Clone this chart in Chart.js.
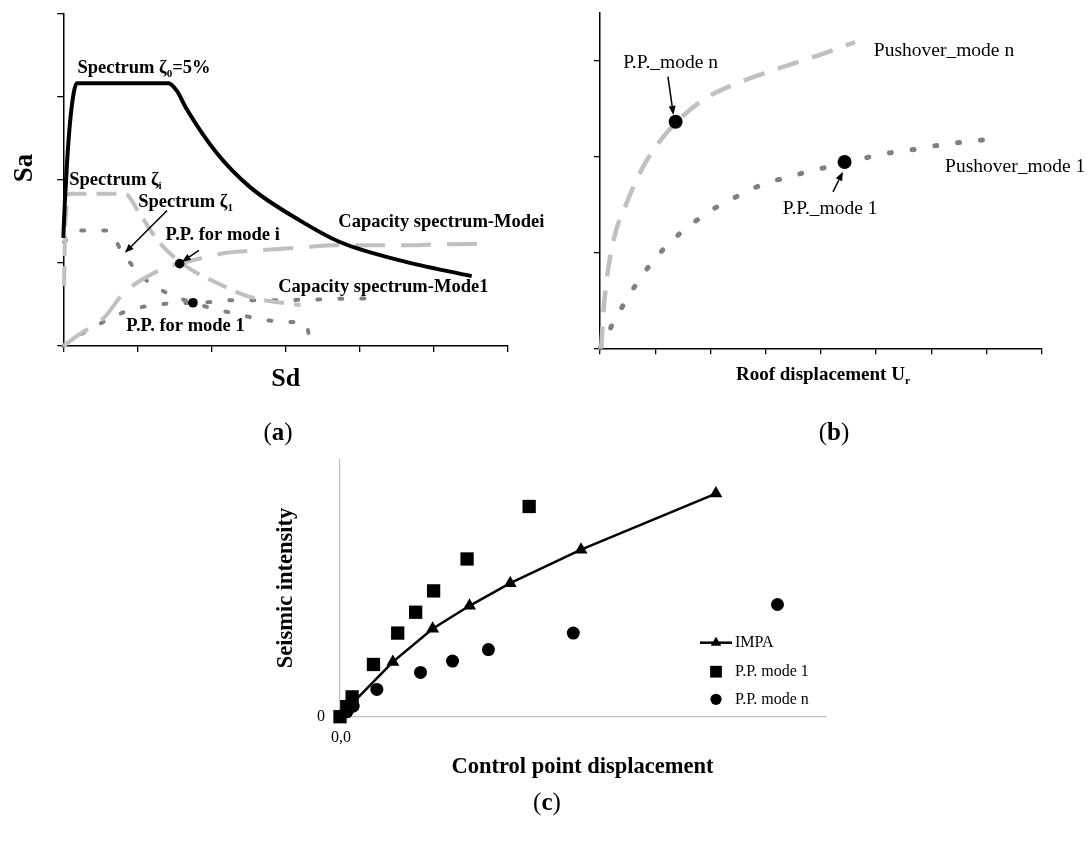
<!DOCTYPE html>
<html>
<head>
<meta charset="utf-8">
<script src="https://cdn.jsdelivr.net/npm/chart.js@4.4.1/dist/chart.umd.min.js"></script>
<style>
body { margin: 0; background: #fff; }
#page { position: relative; width: 1088px; height: 852px; overflow: hidden; }
canvas { position: absolute; }
.cap { position: absolute; width: 80px; text-align: center; font: 25px 'Liberation Serif', serif; line-height: 28px; color: #000; }
</style>
</head>
<body>
<div id="page">
  <canvas id="chartA" width="544" height="450" style="left:0;top:0"></canvas>
  <canvas id="chartB" width="544" height="450" style="left:544px;top:0"></canvas>
  <canvas id="chartC" width="1088" height="402" style="left:0;top:450px"></canvas>
  <div class="cap" style="left:238px;top:418px">(<b>a</b>)</div>
  <div class="cap" style="left:794px;top:418px">(<b>b</b>)</div>
  <div class="cap" style="left:507px;top:788px">(<b>c</b>)</div>
</div>
<script>
const SERIF = "'Liberation Serif', 'Times New Roman', serif";
const LIGHT = '#c0c0c0';
const DARK = '#808080';

// (a) Sd - Sa plane: demand spectra and capacity spectra
const spectrum5 = [[0, 1.3], [0.02, 1.71], [0.05, 2.2], [0.09, 2.68], [0.14, 3.04], [0.18, 3.16], [1.42, 3.16],
  [1.53, 3.07], [1.67, 2.84], [2.07, 2.32], [2.52, 1.91], [3.19, 1.51], [3.73, 1.25], [4.54, 1.03], [5.51, 0.84]];
const spectrumI = [[0.01, 0.72], [0.03, 1.5], [0.09, 1.83], [0.83, 1.83], [1.03, 1.59], [1.30, 1.24],
  [1.67, 0.95], [2.07, 0.76], [2.52, 0.59], [3.2, 0.49]];
const spectrum1 = [[0.01, 1.25], [0.18, 1.39], [0.60, 1.39], [0.80, 1.12], [1.07, 0.83], [1.39, 0.64],
  [1.75, 0.52], [2.21, 0.41], [2.99, 0.29], [3.28, 0.26], [3.31, 0.15]];
const capacityModeI = [[0, 0], [0.2, 0.13], [0.56, 0.35], [0.81, 0.63], [1.40, 0.95], [1.57, 0.99],
  [2.2, 1.12], [2.61, 1.15], [3.3, 1.19], [3.64, 1.21], [4.61, 1.21], [5.0, 1.22], [5.67, 1.23]];
const capacityMode1 = [[0, 0], [0.18, 0.11], [0.52, 0.28], [0.83, 0.41], [1.13, 0.48], [1.42, 0.51],
  [1.75, 0.52], [2.02, 0.53], [2.29, 0.55], [2.61, 0.55], [3.46, 0.56], [3.87, 0.57], [4.30, 0.57]];
const perfPointsA = [[1.57, 0.99], [1.75, 0.52]];

// (b) pushover curves, roof displacement vs base shear
const pushoverModeN = [[0.02, 0.0], [0.08, 0.5], [0.24, 1.11], [0.48, 1.51], [0.78, 1.89], [1.06, 2.14],
  [1.39, 2.36], [1.90, 2.60], [2.48, 2.76], [3.05, 2.88], [3.68, 3.00], [4.05, 3.07], [4.62, 3.19]];
const pushoverMode1 = [[0, 0], [0.35, 0.38], [0.79, 0.78], [1.21, 1.07], [1.63, 1.28], [2.05, 1.45],
  [2.51, 1.59], [2.96, 1.71], [3.38, 1.78], [3.84, 1.85], [4.44, 1.93], [4.86, 1.99], [5.29, 2.04],
  [5.68, 2.07], [6.19, 2.12], [6.61, 2.15], [7.12, 2.18]];
const perfPointsB = [[1.37, 2.36], [4.43, 1.94]];

// (c) IMPA curve and performance points per mode
const impa = [[0, 0], [0.27, 0.55], [1.09, 2.13], [1.91, 3.42], [2.67, 4.31], [3.51, 5.19], [4.97, 6.49], [7.75, 8.67]];
const ppMode1 = [[0, 0], [0.14, 0.39], [0.25, 0.77], [0.69, 2.03], [1.19, 3.25], [1.56, 4.06], [1.93, 4.89],
  [2.62, 6.13], [3.90, 8.17]];
const ppModeN = [[0.14, 0.19], [0.27, 0.41], [0.76, 1.06], [1.66, 1.72], [2.32, 2.16], [3.06, 2.61],
  [4.81, 3.25], [9.02, 4.36]];

// annotation texts, anchored at (left, baseline) in data units
const notesA = [
  { at: [0.19, 3.28], parts: [['Spectrum ζ'], ['0', 1], ['=5%']] },
  { at: [0.08, 1.94], parts: [['Spectrum ζ'], ['i', 1]] },
  { at: [1.01, 1.67], parts: [['Spectrum ζ'], ['1', 1]] },
  { at: [1.38, 1.27], parts: [['P.P. for mode i']] },
  { at: [3.71, 1.43], parts: [['Capacity spectrum-Modei']] },
  { at: [2.90, 0.65], parts: [['Capacity spectrum-Mode1']] },
  { at: [0.85, 0.18], parts: [['P.P. for mode 1']] }
];
const arrowsA = [[[1.40, 1.63], [0.83, 1.12]], [[1.83, 1.15], [1.60, 1.01]]];
const notesB = [
  { at: [0.42, 2.92], parts: [['P.P._mode n']] },
  { at: [4.96, 3.04], parts: [['Pushover_mode n']] },
  { at: [3.31, 1.40], parts: [['P.P._mode 1']] },
  { at: [6.25, 1.84], parts: [['Pushover_mode 1']] }
];
const arrowsB = [[[1.23, 2.83], [1.33, 2.43]], [[4.22, 1.63], [4.40, 1.84]]];

const pts = arr => arr.map(([x, y]) => ({ x, y }));

function curve(data, color, width, dash, cap) {
  return {
    data: pts(data), showLine: true, borderColor: color, borderWidth: width,
    borderDash: dash || [], borderCapStyle: cap || 'butt', pointRadius: 0,
    cubicInterpolationMode: 'monotone', fill: false, clip: false
  };
}

function dots(data, style, r) {
  return {
    data: pts(data), showLine: false, pointStyle: style, pointRadius: r,
    pointBackgroundColor: '#000', pointBorderColor: '#000', pointBorderWidth: 0, clip: false
  };
}

function drawRich(ctx, x, y, parts, size, weight, align) {
  const base = `${weight} ${size}px ${SERIF}`;
  const sub = `${weight} ${size * 0.6}px ${SERIF}`;
  let total = 0;
  parts.forEach(([t, s]) => { ctx.font = s ? sub : base; total += ctx.measureText(t).width; });
  let cx = align === 'center' ? x - total / 2 : x;
  ctx.textAlign = 'left';
  ctx.textBaseline = 'alphabetic';
  ctx.fillStyle = '#000';
  parts.forEach(([t, s]) => {
    ctx.font = s ? sub : base;
    ctx.fillText(t, cx, s ? y + size * 0.22 : y);
    cx += ctx.measureText(t).width;
  });
}

function drawArrow(ctx, x1, y1, x2, y2) {
  const a = Math.atan2(y2 - y1, x2 - x1), h = 9, w = 3.5;
  const bx = x2 - h * Math.cos(a), by = y2 - h * Math.sin(a);
  ctx.save();
  ctx.strokeStyle = '#000';
  ctx.fillStyle = '#000';
  ctx.lineWidth = 1.5;
  ctx.beginPath(); ctx.moveTo(x1, y1); ctx.lineTo(bx, by); ctx.stroke();
  ctx.beginPath();
  ctx.moveTo(x2, y2);
  ctx.lineTo(bx + w * Math.sin(a), by - w * Math.cos(a));
  ctx.lineTo(bx - w * Math.sin(a), by + w * Math.cos(a));
  ctx.closePath(); ctx.fill();
  ctx.restore();
}

function drawVertical(ctx, text, x, y, size) {
  ctx.save();
  ctx.translate(x, y);
  ctx.rotate(-Math.PI / 2);
  ctx.font = `bold ${size}px ${SERIF}`;
  ctx.textAlign = 'center';
  ctx.textBaseline = 'alphabetic';
  ctx.fillStyle = '#000';
  ctx.fillText(text, 0, 0);
  ctx.restore();
}

function marker(ctx, style, x, y, r) {
  ctx.save();
  ctx.fillStyle = '#000';
  ctx.beginPath();
  if (style === 'circle') {
    ctx.arc(x, y, r, 0, Math.PI * 2);
  } else if (style === 'rect') {
    const s = r * Math.SQRT1_2;
    ctx.rect(x - s, y - s, 2 * s, 2 * s);
  } else {
    ctx.moveTo(x, y - r);
    ctx.lineTo(x + r * 0.866, y + r * 0.5);
    ctx.lineTo(x - r * 0.866, y + r * 0.5);
    ctx.closePath();
  }
  ctx.fill();
  ctx.restore();
}

// draws texts and arrows after the datasets, in data coordinates
function notesPlugin(notes, arrows, size, weight, extra) {
  return {
    id: 'notes',
    afterDatasetsDraw(chart) {
      const ctx = chart.ctx, xs = chart.scales.x, ys = chart.scales.y;
      arrows.forEach(([f, t]) => drawArrow(ctx, xs.getPixelForValue(f[0]), ys.getPixelForValue(f[1]),
        xs.getPixelForValue(t[0]), ys.getPixelForValue(t[1])));
      notes.forEach(n => drawRich(ctx, xs.getPixelForValue(n.at[0]), ys.getPixelForValue(n.at[1]), n.parts, size, weight));
      if (extra) extra(chart, ctx);
    }
  };
}

function axis(min, max, step, pos, ticks, extra) {
  return Object.assign({
    type: 'linear', min, max, position: pos,
    grid: { display: ticks, drawOnChartArea: false, drawTicks: true, tickLength: 6, color: '#000', lineWidth: 1.3 },
    border: { display: true, color: '#000', width: 1.5 },
    ticks: { display: false, stepSize: step, includeBounds: false },
    afterFit: s => { if (pos === 'bottom') s.height = 0; else s.width = 0; }
  }, extra || {});
}

function baseOptions(pad, scales) {
  return {
    responsive: false, animation: false, devicePixelRatio: 1,
    layout: { padding: pad },
    plugins: { legend: { display: false }, tooltip: { enabled: false } },
    events: [],
    scales
  };
}

// (a)
new Chart(document.getElementById('chartA'), {
  type: 'scatter',
  data: {
    datasets: [
      dots(perfPointsA, 'circle', 4.8),
      curve(spectrum5, '#000', 4),
      curve(capacityModeI, LIGHT, 4, [30, 16]),
      curve(spectrumI, LIGHT, 4, [20, 10]),
      curve(spectrum1, DARK, 4, [3, 19], 'round'),
      curve(capacityMode1, DARK, 4, [3, 19], 'round')
    ]
  },
  options: baseOptions({ left: 63.3, top: 13.3, right: 36, bottom: 104 }, {
    x: axis(0, 6, 1, 'bottom', true),
    y: axis(0, 4, 1, 'left', true)
  }),
  plugins: [notesPlugin(notesA, arrowsA, 18.5, 'bold', (chart, ctx) => {
    const a = chart.chartArea;
    drawVertical(ctx, 'Sa', 31.7, 168, 27);
    drawRich(ctx, (a.left + a.right) / 2, 386, [['Sd']], 26, 'bold', 'center');
  })]
});

// (b)
new Chart(document.getElementById('chartB'), {
  type: 'scatter',
  data: {
    datasets: [
      dots(perfPointsB, 'circle', 7),
      curve(pushoverModeN, LIGHT, 4.5, [22, 14]),
      curve(pushoverMode1, DARK, 5, [2, 21], 'round')
    ]
  },
  options: baseOptions({ left: 56, top: 12.3, right: 46.3, bottom: 101.7 }, {
    x: axis(0, 8, 1, 'bottom', true),
    y: axis(0, 3.5, 1, 'left', true)
  }),
  plugins: [notesPlugin(notesB, arrowsB, 19.5, 'normal', (chart, ctx) => {
    drawRich(ctx, 192, 380, [['Roof displacement U'], ['r', 1]], 19, 'bold');
  })]
});

// (c)
const lightAxis = { border: { display: true, color: '#bfbfbf', width: 1.2 }, grid: { display: false } };
new Chart(document.getElementById('chartC'), {
  type: 'scatter',
  data: {
    datasets: [
      dots(ppModeN, 'circle', 6.5),
      dots(ppMode1, 'rect', 9.4),
      Object.assign(dots(impa, 'triangle', 7.5), { showLine: true, borderColor: '#000', borderWidth: 2.5, tension: 0 })
    ]
  },
  options: baseOptions({ left: 340, top: 8.3, right: 263, bottom: 135.3 }, {
    x: axis(0, 10, 1, 'bottom', false, lightAxis),
    y: axis(0, 10, 1, 'left', false, lightAxis)
  }),
  plugins: [notesPlugin([], [], 16, 'normal', (chart, ctx) => {
    const a = chart.chartArea;
    ctx.font = `16px ${SERIF}`;
    ctx.fillStyle = '#000';
    ctx.textAlign = 'center';
    ctx.textBaseline = 'middle';
    ctx.fillText('0', a.left - 19, a.bottom);
    ctx.fillText('0,0', a.left + 1, a.bottom + 21);
    drawVertical(ctx, 'Seismic intensity', a.left - 48, (a.top + a.bottom) / 2, 22.5);
    drawRich(ctx, (a.left + a.right) / 2, a.bottom + 56.6, [['Control point displacement']], 22.5, 'bold', 'center');

    // legend
    const mx = a.right - 109, tx = a.right - 90;
    const rows = [a.bottom - 74, a.bottom - 45, a.bottom - 17.4];
    ctx.save();
    ctx.strokeStyle = '#000';
    ctx.lineWidth = 2.5;
    ctx.beginPath(); ctx.moveTo(mx - 16, rows[0]); ctx.lineTo(mx + 16, rows[0]); ctx.stroke();
    ctx.restore();
    marker(ctx, 'triangle', mx, rows[0], 6);
    marker(ctx, 'rect', mx, rows[1], 8.3);
    marker(ctx, 'circle', mx, rows[2], 5.6);
    ctx.font = `16px ${SERIF}`;
    ctx.fillStyle = '#000';
    ctx.textAlign = 'left';
    ctx.textBaseline = 'middle';
    ['IMPA', 'P.P. mode 1', 'P.P. mode n'].forEach((t, i) => ctx.fillText(t, tx, rows[i]));
  })]
});
</script>
</body>
</html>
